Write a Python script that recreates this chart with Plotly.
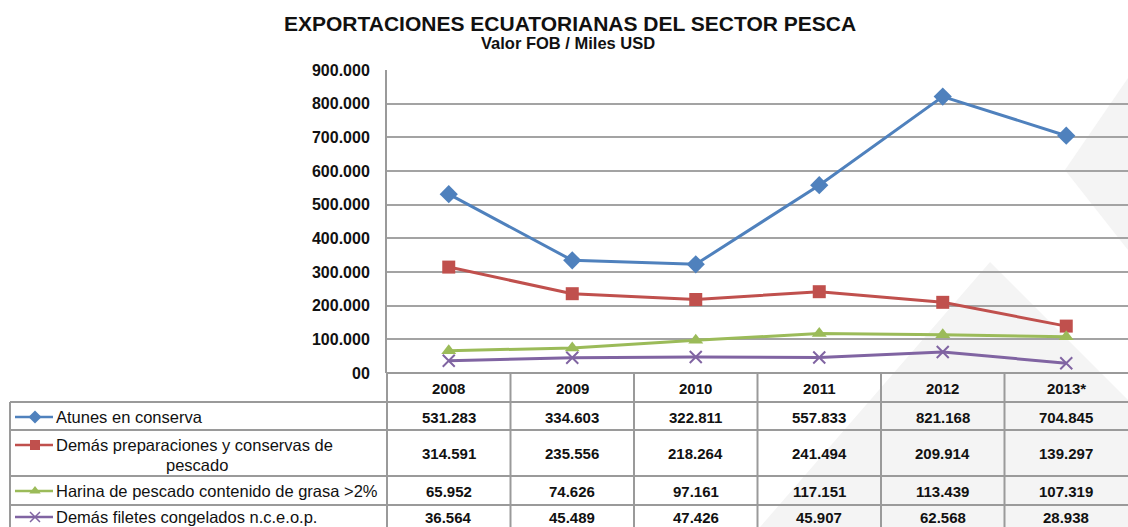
import plotly.graph_objects as go

# ---------------- data ----------------
years = ["2008", "2009", "2010", "2011", "2012", "2013*"]
series_names = [
    "Atunes en conserva",
    "Demás preparaciones y conservas de pescado",
    "Harina de pescado contenido de grasa >2%",
    "Demás filetes congelados n.c.e.o.p.",
]
atunes = [531283, 334603, 322811, 557833, 821168, 704845]
demas_prep = [314591, 235556, 218264, 241494, 209914, 139297]
harina = [65952, 74626, 97161, 117151, 113439, 107319]
filetes = [36564, 45489, 47426, 45907, 62568, 28938]
y_tick_vals = [0, 100000, 200000, 300000, 400000, 500000, 600000, 700000, 800000, 900000]
y_tick_text = ["00", "100.000", "200.000", "300.000", "400.000", "500.000",
               "600.000", "700.000", "800.000", "900.000"]

colors = ["#4F81BD", "#C0504D", "#9BBB59", "#8064A2"]
symbols = ["diamond", "square", "triangle-up", "x-thin-open"]
marker_sizes = [14, 13, 13, 12]
all_series = [atunes, demas_prep, harina, filetes]

# ---------------- layout geometry (pixels) ----------------
W, H = 1128, 527
PL, PR, PT, PB = 387, 1128, 70, 373
FONT = "Liberation Sans, Arial, sans-serif"
GRID = "#a3a3a3"
TBL = "#9a9a9a"

fig = go.Figure()

for name, vals, c, s, ms in zip(series_names, all_series, colors, symbols, marker_sizes):
    fig.add_trace(go.Scatter(
        x=list(range(len(years))), y=vals, mode="lines+markers", name=name,
        line=dict(color=c, width=3),
        marker=dict(symbol=s, size=ms, color=c,
                    line=dict(color=c, width=2 if s == "x-thin-open" else 0)),
        xaxis="x", yaxis="y", showlegend=False, cliponaxis=False,
    ))

row_y = [417, 445, 491, 517]
val_y = [417, 453, 491, 517]
row_lines = [402, 430, 476, 505]

for name, c, s, ry in zip(series_names, colors, symbols, row_y):
    fig.add_trace(go.Scatter(
        x=[15, 53], y=[ry, ry], mode="lines", line=dict(color=c, width=2.5),
        xaxis="x2", yaxis="y2", showlegend=False, hoverinfo="skip"))
    fig.add_trace(go.Scatter(
        x=[35], y=[ry], mode="markers",
        marker=dict(symbol=s, size=10, color=c, line=dict(color=c, width=1.5 if s == "x-thin-open" else 0)),
        xaxis="x2", yaxis="y2", showlegend=False, hoverinfo="skip"))

shapes = []
def ppath(pts):
    return "M " + " L ".join("%.4f %.4f" % (x / W, 1 - y / H) for x, y in pts) + " Z"

# faint background watermark
shapes.append(dict(type="path", xref="paper", yref="paper", layer="below",
                   path=ppath([(990, 262), (1128, 400), (1128, 527), (760, 527)]),
                   fillcolor="#f4f4f4", line=dict(width=0)))
shapes.append(dict(type="path", xref="paper", yref="paper", layer="below",
                   path=ppath([(1128, 78), (1065, 170), (1128, 250)]),
                   fillcolor="#f4f4f4", line=dict(width=0)))

# data table grid
shapes.append(dict(type="line", xref="x2", yref="y2", x0=PL, x1=W, y0=PB, y1=PB,
                   line=dict(color=TBL, width=2)))
for yl in row_lines:
    shapes.append(dict(type="line", xref="x2", yref="y2", x0=10, x1=W, y0=yl, y1=yl,
                       line=dict(color=TBL, width=2)))
shapes.append(dict(type="line", xref="x2", yref="y2", x0=10, x1=10, y0=402, y1=H + 5,
                   line=dict(color=TBL, width=2)))
shapes.append(dict(type="line", xref="x2", yref="y2", x0=PL, x1=PL, y0=PB, y1=H + 5,
                   line=dict(color=TBL, width=2)))
for i in range(1, len(years)):
    shapes.append(dict(type="line", xref="x", yref="y2", x0=i - 0.5, x1=i - 0.5, y0=PB, y1=H + 5,
                       line=dict(color=TBL, width=2)))

annotations = []
annotations.append(dict(text="<b>EXPORTACIONES ECUATORIANAS DEL SECTOR PESCA</b>",
                        xref="x2", yref="y2", x=570, y=23, showarrow=False,
                        font=dict(family=FONT, size=21, color="#111")))
annotations.append(dict(text="<b>Valor FOB / Miles USD</b>",
                        xref="x2", yref="y2", x=568, y=43, showarrow=False,
                        font=dict(family=FONT, size=16.5, color="#111")))
for i, yr in enumerate(years):
    annotations.append(dict(text="<b>%s</b>" % yr, xref="x", yref="y2", x=i, y=388,
                            showarrow=False, font=dict(family=FONT, size=15, color="#111")))
for vals, vy in zip(all_series, val_y):
    for i, v in enumerate(vals):
        annotations.append(dict(text="<b>%s</b>" % f"{v:,}".replace(",", "."),
                                xref="x", yref="y2", x=i, y=vy, showarrow=False,
                                font=dict(family=FONT, size=15, color="#111")))
label_lines = [series_names[0], "Demás preparaciones y conservas de", series_names[2], series_names[3]]
for txt, ry in zip(label_lines, row_y):
    annotations.append(dict(text=txt, xref="x2", yref="y2", x=54, y=ry, xanchor="left",
                            showarrow=False, font=dict(family=FONT, size=16.5, color="#111")))
annotations.append(dict(text="pescado", xref="x2", yref="y2", x=197, y=465,
                        showarrow=False, font=dict(family=FONT, size=16.5, color="#111")))

fig.update_layout(
    width=W, height=H,
    margin=dict(l=0, r=0, t=0, b=0, pad=0, autoexpand=False),
    paper_bgcolor="white", plot_bgcolor="rgba(0,0,0,0)",
    xaxis=dict(domain=[PL / W, 1], range=[-0.5, len(years) - 0.5],
               showticklabels=False, showgrid=False, zeroline=False, showline=False,
               anchor="y", fixedrange=True, automargin=False),
    yaxis=dict(domain=[(H - PB) / H, (H - PT) / H], range=[0, 900000],
               tickvals=y_tick_vals, ticktext=["<b>%s</b>" % t for t in y_tick_text],
               tickfont=dict(family=FONT, size=16, color="#111"), ticks="", ticklen=0,
               ticklabelstandoff=12, automargin=False,
               showgrid=True, gridcolor=GRID, gridwidth=2, zeroline=False,
               showline=True, linecolor=TBL, linewidth=2, anchor="x", fixedrange=True),
    xaxis2=dict(domain=[0, 1], range=[0, W], visible=False, anchor="y2", fixedrange=True,
                automargin=False),
    yaxis2=dict(domain=[0, 1], range=[H, 0], visible=False, anchor="x2", fixedrange=True,
                automargin=False),
    shapes=shapes, annotations=annotations,
)

post = """
var st=document.createElement('style');
st.textContent='html,body{margin:0!important;padding:0!important;overflow:hidden!important;width:1128px!important;height:527px!important;} body>div{margin:0!important;padding:0!important;}';
document.head.appendChild(st);
"""
fig.write_html("out.html", post_script=post, config={"displayModeBar": False})
